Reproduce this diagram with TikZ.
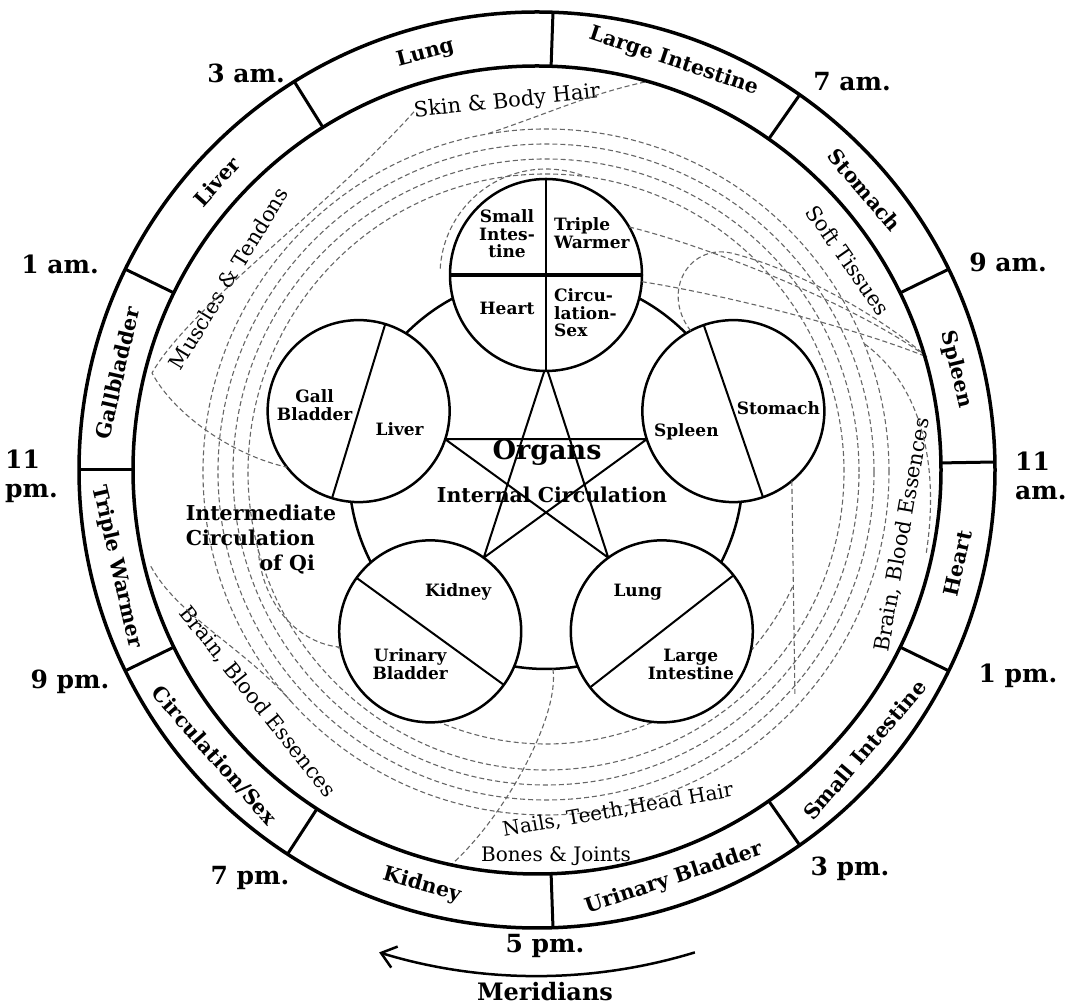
\documentclass[tikz,border=0pt]{standalone}
\usepackage{fontspec}
\setmainfont{DejaVu Serif}
\usetikzlibrary{arrows.meta,positioning,calc}

\begin{document}
\begin{tikzpicture}[x=1pt,y=1pt,
  ring/.style={line width=3.5pt},
  organ/.style={draw,circle,fill=white,line width=2.5pt,inner sep=0pt,outer sep=0pt,minimum size=182pt},
  split/.style={line width=2pt},
  qi/.style={dash pattern=on 5pt off 3pt,line width=1.1pt,black!60},
  clock/.style={font=\fontsize{25}{29}\selectfont\bfseries,inner sep=1pt},
  meridian/.style={font=\fontsize{20.5}{22}\selectfont\bfseries,inner sep=0pt},
  tissue/.style={font=\fontsize{21}{23}\selectfont,inner sep=0pt},
  olab/.style={font=\fontsize{17}{17.5}\selectfont\bfseries,align=center,inner sep=0pt},
  title/.style={font=\fontsize{20.5}{25}\selectfont\bfseries,align=left,inner sep=0pt}]
\useasboundingbox (0,0) rectangle (1082,1006);
\coordinate (C) at (537,536);
\coordinate (O) at (546,534);
\coordinate (M) at (537,570);

% circulation paths
\foreach \rad in {298,313,328,343}
  \draw[qi] (O) circle[radius=\rad pt];
\draw[qi] ($(O)+(-25:272)$) arc[start angle=-25,end angle=-140,radius=272pt];

\node[tissue,rotate=6] (skin) at ($(O)+(96:372)$) {Skin \& Body Hair};
\node[tissue,rotate=58.6] (musc) at ($(O)+(148.6:372)$) {Muscles \& Tendons};
\node[tissue,rotate=-55] (soft) at ($(O)+(35:369)$) {Soft Tissues};
\node[tissue,rotate=80] (bbR) at ($(O)+(-10:362)$) {Brain, Blood Essences};
\node[tissue,rotate=-51.5] (bbL) at ($(O)+(-141.5:369)$) {Brain, Blood Essences};
\node[tissue,font=\fontsize{20}{22}\selectfont,rotate=10] (nails) at ($(O)+(-78:346)$) {Nails, Teeth,Head Hair};
\node[tissue,font=\fontsize{20}{22}\selectfont] (bones) at ($(O)+(-88.5:384)$) {Bones \& Joints};

\coordinate (sk1) at (645,924);
\coordinate (sp1) at (927,649);
\coordinate (sp2) at ($(C)+(-12:398)$);
\coordinate (bb1) at ($(C)+(-166:398)$);
\coordinate (bj1) at (452,142);

\draw[line width=2.5pt] (O) circle[radius=197pt];
\foreach \i in {0,...,4}
  \coordinate (s\i) at ($(O)+(90+72*\i:106)$);
\draw[split] (s0) -- (s2) -- (s4) -- (s1) -- (s3) -- cycle;

\node[organ,minimum size=192pt] (heart) at ($(O)+(90:197)$) {};
\node[organ] (liver) at ($(O)+(162:197)$) {};
\node[organ] (spleen) at ($(O)+(18:197)$) {};
\node[organ] (kidney) at ($(O)+(234:197)$) {};
\node[organ] (lung) at ($(O)+(306:197)$) {};

\draw[qi] ($(heart)+(70:106)$) arc[start angle=70,end angle=178,radius=106pt];
\draw[qi] (sk1) .. controls (590,912) and (555,895) .. ($(O)+(100:343)$);
\draw[qi] (skin.west) .. controls (330,800) and (190,700) .. (152,633) .. controls (175,590) and (235,550) .. (liver.218);
\draw[qi] (heart.30) .. controls (700,762) and (850,705) .. (sp1);
\draw[qi] (heart.-4) .. controls (720,712) and (850,680) .. (sp1);
\draw[qi] (spleen.118) .. controls (660,715) and (690,765) .. (735,752) .. controls (800,735) and (880,690) .. (sp1);
\draw[qi] (sp2) .. controls ($(C)+(0:402)$) and ($(C)+(12:396)$) .. ($(O)+(22:343)$);
\draw[qi] (spleen.-50) -- ($(O)+(-42:335)$);
\draw[qi] (kidney.190) .. controls (300,362) and (262,400) .. ($(O)+(-165:298)$);
\draw[qi] ($(O)+(-88:197)$) .. controls (560,290) and (505,190) .. (bj1);
\draw[qi] (bb1) .. controls ($(C)+(-158:388)$) and ($(O)+(-150:350)$) .. ($(O)+(-138:343)$);

\draw[split,line width=3.5pt] (heart.west) -- (heart.east);
\draw[split] (heart.north) -- (heart.south);
\draw[split] (liver.73) -- (liver.253);
\draw[split] (spleen.109) -- (spleen.289);
\draw[split] (kidney.144) -- (kidney.324);
\draw[split] (lung.38) -- (lung.218);

\node[olab] (siL) at ($(heart)+(-39,41)$) {Small\\Intes-\\tine};
\node[olab,anchor=west,align=left] (twL) at ($(heart)+(8,42)$) {Triple\\Warmer};
\node[olab] (hL) at ($(heart)+(-39,-33)$) {Heart};
\node[olab,anchor=west,align=left] (csL) at ($(heart)+(8,-38)$) {Circu-\\lation-\\Sex};
\node[olab] (gbL) at ($(liver)+(-44,6)$) {Gall\\Bladder};
\node[olab] (lvL) at ($(liver)+(41,-18)$) {Liver};
\node[olab] (spL) at ($(spleen)+(-47,-21)$) {Spleen};
\node[olab] (stL) at ($(spleen)+(45,3)$) {Stomach};
\node[olab] (kdL) at ($(kidney)+(28,39)$) {Kidney};
\node[olab] (ubL) at ($(kidney)+(-20,-33)$) {Urinary\\Bladder};
\node[olab] (lgL) at ($(lung)+(-24,39)$) {Lung};
\node[olab] (liL) at ($(lung)+(29,-33)$) {Large\\Intestine};

\node[font=\fontsize{27}{29}\selectfont\bfseries] (organs) at (547,554) {Organs};
\node[title] (intc) at (552,511) {Internal Circulation};
\node[title] (inter) at (261,466) {Intermediate\\Circulation\\\hspace*{3.6em}of Qi};

\draw[ring] (C) circle[radius=458pt];
\draw[ring] (C) circle[radius=404pt];
\foreach \a in {88,55,26,1,-26,-55,-88,-123,-154,180,154,122}
  \draw[ring,line width=3pt] ($(C)+(\a:404)$) -- ($(C)+(\a:458)$);
\foreach \a/\t [count=\i] in {105/Lung,71.5/Large Intestine,40.5/Stomach,13.5/Spleen,138/Liver,167/Gallbladder}
  \node[meridian,rotate=\a-90] (mt\i) at ($(C)+(\a:431)$) {\t};
\foreach \a/\t [count=\i] in {-12.5/Heart,-40.5/Small Intestine,-71.5/Urinary Bladder,-105.5/Kidney,-138.5/{Circulation/Sex},-167/Triple Warmer}
  \node[meridian,rotate=\a+90] (mb\i) at ($(C)+(\a:431)$) {\t};

\node[clock] (t3a) at (246,933) {3 am.};
\node[clock] (t7a) at (852,924) {7 am.};
\node[clock] (t9a) at (1008,744) {9 am.};
\node[clock,anchor=west,align=left] (t11a) at (1014,530) {11\\am.};
\node[clock] (t1p) at (1018,330) {1 pm.};
\node[clock] (t3p) at (850,137) {3 pm.};
\node[clock] (t5p) at (545,60) {5 pm.};
\node[clock] (t7p) at (250,128) {7 pm.};
\node[clock] (t9p) at (70,324) {9 pm.};
\node[clock,anchor=west,align=left] (t11p) at (4,530) {11\\pm.};
\node[clock] (t1a) at (60,742) {1 am.};

\coordinate (aR) at ($(M)+(-73:540)$);
\draw[line width=2.5pt,-{Straight Barb[length=14pt,width=22pt]}] (aR) arc[start angle=-73,end angle=-107,radius=540pt];
\node[clock,font=\fontsize{24}{26}\selectfont\bfseries] (mer) at (545,14) {Meridians};
\end{tikzpicture}
\end{document}
